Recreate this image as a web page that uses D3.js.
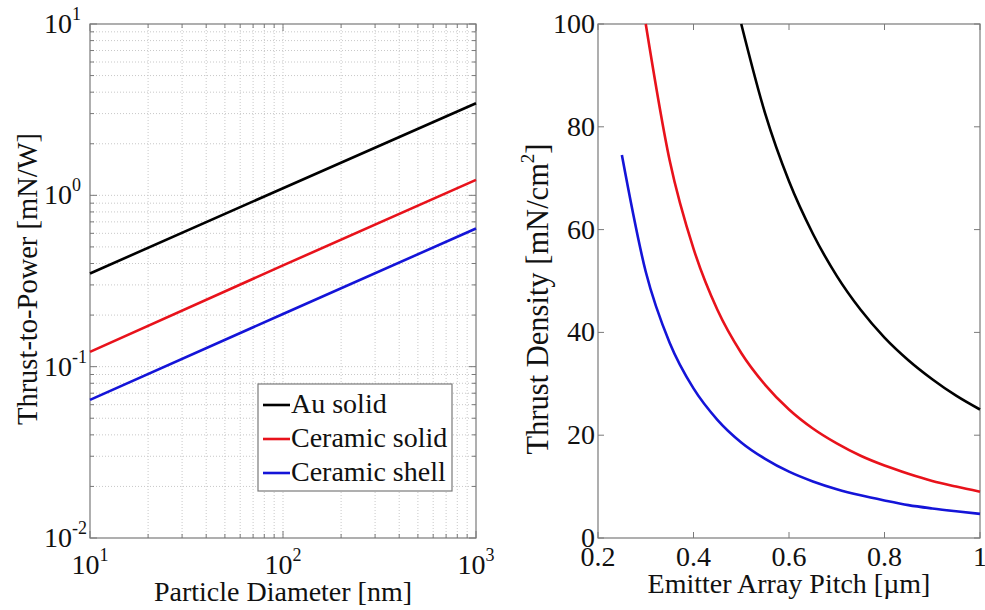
<!DOCTYPE html>
<html>
<head>
<meta charset="utf-8">
<script src="https://cdn.jsdelivr.net/npm/d3@7"></script>
<style>
  body { margin: 0; background: #fff; }
  svg { display: block; }
  text { font-family: "Liberation Serif", "Times New Roman", serif; fill: #111; }
</style>
</head>
<body>
<div id="chart"></div>
<script>
// left panel: thrust-to-power vs particle diameter (log-log)
const diameters = [10, 100, 1000];
const seriesNames = ['Au solid', 'Ceramic solid', 'Ceramic shell'];
const seriesColors = ['#000000', '#e8121b', '#1414d8'];
const auSolid = [0.35, 1.1, 3.45];
const ceramicSolid = [0.122, 0.39, 1.23];
const ceramicShell = [0.064, 0.203, 0.64];
const logTicks = [-2, -1, 0, 1];   // exponents for y
const xLogTicks = [1, 2, 3];       // exponents for x

// right panel: thrust density vs emitter pitch
const pitchAu = [0.5, 0.55, 0.6, 0.65, 0.7, 0.75, 0.8, 0.85, 0.9, 0.95, 1.0];
const densityAu = [100, 82.6, 69.4, 59.2, 51.0, 44.4, 39.0, 34.6, 30.9, 27.7, 25.0];
const pitchRed = [0.3, 0.35, 0.4, 0.45, 0.5, 0.55, 0.6, 0.65, 0.7, 0.75, 0.8, 0.85, 0.9, 0.95, 1.0];
const densityRed = [100, 73.5, 56.3, 44.4, 36.0, 29.8, 25.0, 21.3, 18.4, 16.0, 14.1, 12.5, 11.1, 10.0, 9.0];
const pitchBlue = [0.25, 0.3, 0.35, 0.4, 0.45, 0.5, 0.55, 0.6, 0.65, 0.7, 0.75, 0.8, 0.85, 0.9, 0.95, 1.0];
const densityBlue = [74.5, 51.8, 38.0, 29.1, 23.0, 18.6, 15.4, 12.9, 11.0, 9.5, 8.3, 7.3, 6.4, 5.75, 5.2, 4.7];
const pitchTicks = [0.2, 0.4, 0.6, 0.8, 1];
const densityTicks = [0, 20, 40, 60, 80, 100];

const width = 985, height = 610;
const axisColor = '#7a7a7a';
const fontSize = 28;

const svg = d3.select('#chart').append('svg')
    .attr('width', width)
    .attr('height', height);

// ---------- left plot ----------
const L = {left: 90, right: 476, top: 24, bottom: 538};
const xL = d3.scaleLog().domain([10, 1000]).range([L.left, L.right]);
const yL = d3.scaleLog().domain([0.01, 10]).range([L.bottom, L.top]);

const gL = svg.append('g');

// minor + major grid values
const xGrid = [], yGrid = [];
for (let e = 1; e < 3; e++) for (let m = 1; m <= 9; m++) xGrid.push(m * Math.pow(10, e));
xGrid.push(1000);
for (let e = -2; e < 1; e++) for (let m = 1; m <= 9; m++) yGrid.push(m * Math.pow(10, e));
yGrid.push(10);

gL.selectAll('.gx').data(xGrid.slice(1, -1)).enter().append('line')
    .attr('x1', d => xL(d)).attr('x2', d => xL(d))
    .attr('y1', L.top).attr('y2', L.bottom)
    .attr('stroke', '#c8c8c8').attr('stroke-width', 1)
    .attr('stroke-dasharray', '1,2');
gL.selectAll('.gy').data(yGrid.slice(1, -1)).enter().append('line')
    .attr('y1', d => yL(d)).attr('y2', d => yL(d))
    .attr('x1', L.left).attr('x2', L.right)
    .attr('stroke', '#c8c8c8').attr('stroke-width', 1)
    .attr('stroke-dasharray', '1,2');

// inner ticks on all sides
const tickLen = d => (Math.abs(Math.log10(d) - Math.round(Math.log10(d))) < 1e-9 ? 7 : 4);
xGrid.forEach(d => {
  gL.append('line').attr('x1', xL(d)).attr('x2', xL(d))
    .attr('y1', L.bottom).attr('y2', L.bottom - tickLen(d)).attr('stroke', axisColor);
  gL.append('line').attr('x1', xL(d)).attr('x2', xL(d))
    .attr('y1', L.top).attr('y2', L.top + tickLen(d)).attr('stroke', axisColor);
});
yGrid.forEach(d => {
  gL.append('line').attr('y1', yL(d)).attr('y2', yL(d))
    .attr('x1', L.left).attr('x2', L.left + tickLen(d)).attr('stroke', axisColor);
  gL.append('line').attr('y1', yL(d)).attr('y2', yL(d))
    .attr('x1', L.right).attr('x2', L.right - tickLen(d)).attr('stroke', axisColor);
});

gL.append('rect')
    .attr('x', L.left).attr('y', L.top)
    .attr('width', L.right - L.left).attr('height', L.bottom - L.top)
    .attr('fill', 'none').attr('stroke', axisColor).attr('stroke-width', 1.2);

const lineL = d3.line().x(d => xL(d[0])).y(d => yL(d[1]));
[auSolid, ceramicSolid, ceramicShell].forEach((vals, i) => {
  gL.append('path')
    .datum(diameters.map((d, j) => [d, vals[j]]))
    .attr('d', lineL)
    .attr('fill', 'none')
    .attr('stroke', seriesColors[i])
    .attr('stroke-width', 2.6);
});

// y tick labels 10^n
logTicks.forEach(e => {
  const t = gL.append('text')
    .attr('x', 44).attr('y', yL(Math.pow(10, e)) + 9)
    .attr('font-size', fontSize);
  t.append('tspan').text('10');
  t.append('tspan').attr('dy', -13).attr('font-size', 18).text(e);
});
// x tick labels
xLogTicks.forEach(e => {
  const t = gL.append('text')
    .attr('x', xL(Math.pow(10, e))).attr('y', 574)
    .attr('text-anchor', 'middle')
    .attr('font-size', fontSize);
  t.append('tspan').text('10');
  t.append('tspan').attr('dy', -13).attr('font-size', 18).text(e);
});

gL.append('text')
    .attr('x', (L.left + L.right) / 2).attr('y', 601)
    .attr('text-anchor', 'middle').attr('font-size', fontSize)
    .text('Particle Diameter [nm]');
gL.append('text')
    .attr('transform', `translate(37, ${(L.top + L.bottom) / 2 - 2}) rotate(-90)`)
    .attr('text-anchor', 'middle').attr('font-size', 28.5)
    .text('Thrust-to-Power [mN/W]');

// legend
const leg = gL.append('g');
leg.append('rect')
    .attr('x', 258).attr('y', 384).attr('width', 194).attr('height', 107)
    .attr('fill', '#fff').attr('stroke', axisColor).attr('stroke-width', 1.2);
seriesNames.forEach((name, i) => {
  const y = 405 + i * 34;
  leg.append('line')
    .attr('x1', 263).attr('x2', 290).attr('y1', y).attr('y2', y)
    .attr('stroke', seriesColors[i]).attr('stroke-width', 2.6);
  leg.append('text')
    .attr('x', 291).attr('y', y + 8)
    .attr('font-size', fontSize)
    .text(name);
});

// ---------- right plot ----------
const R = {left: 598, right: 980, top: 24, bottom: 538};
const xR = d3.scaleLinear().domain([0.2, 1]).range([R.left, R.right]);
const yR = d3.scaleLinear().domain([0, 100]).range([R.bottom, R.top]);
const gR = svg.append('g');

pitchTicks.forEach(d => {
  gR.append('line').attr('x1', xR(d)).attr('x2', xR(d))
    .attr('y1', R.bottom).attr('y2', R.bottom - 6).attr('stroke', axisColor);
  gR.append('line').attr('x1', xR(d)).attr('x2', xR(d))
    .attr('y1', R.top).attr('y2', R.top + 6).attr('stroke', axisColor);
  gR.append('text')
    .attr('x', xR(d)).attr('y', 566)
    .attr('text-anchor', 'middle').attr('font-size', fontSize)
    .text(d3.format('~g')(d));
});
densityTicks.forEach(d => {
  gR.append('line').attr('y1', yR(d)).attr('y2', yR(d))
    .attr('x1', R.left).attr('x2', R.left + 6).attr('stroke', axisColor);
  gR.append('line').attr('y1', yR(d)).attr('y2', yR(d))
    .attr('x1', R.right).attr('x2', R.right - 6).attr('stroke', axisColor);
  gR.append('text')
    .attr('x', R.left - 3).attr('y', yR(d) + 9)
    .attr('text-anchor', 'end').attr('font-size', fontSize)
    .text(d);
});

gR.append('rect')
    .attr('x', R.left).attr('y', R.top)
    .attr('width', R.right - R.left).attr('height', R.bottom - R.top)
    .attr('fill', 'none').attr('stroke', axisColor).attr('stroke-width', 1.2);

const lineR = d3.line().x(d => xR(d[0])).y(d => yR(d[1])).curve(d3.curveMonotoneX);
[[pitchAu, densityAu], [pitchRed, densityRed], [pitchBlue, densityBlue]].forEach(([xs, ys], i) => {
  gR.append('path')
    .datum(xs.map((x, j) => [x, ys[j]]))
    .attr('d', lineR)
    .attr('fill', 'none')
    .attr('stroke', seriesColors[i])
    .attr('stroke-width', 2.6);
});

gR.append('text')
    .attr('x', (R.left + R.right) / 2).attr('y', 593)
    .attr('text-anchor', 'middle').attr('font-size', fontSize)
    .text('Emitter Array Pitch [\u00b5m]');
const yl = gR.append('text')
    .attr('transform', `translate(548, 299) rotate(-90)`)
    .attr('text-anchor', 'middle').attr('font-size', 30.5);
yl.append('tspan').text('Thrust Density [mN/cm');
yl.append('tspan').attr('dy', -14).attr('font-size', 19).text('2');
yl.append('tspan').attr('dy', 14).text(']');
</script>
</body>
</html>
